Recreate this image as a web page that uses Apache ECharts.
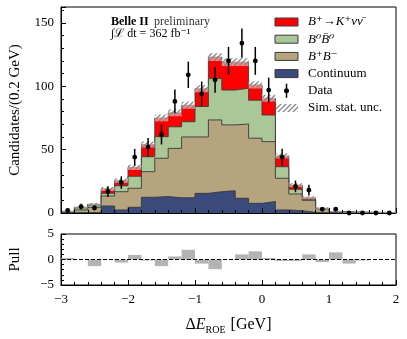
<!DOCTYPE html>
<html>
<head>
<meta charset="utf-8">
<script src="https://cdn.jsdelivr.net/npm/echarts@6/dist/echarts.min.js"></script>
<style>
html, body { margin: 0; padding: 0; background: #fff; }
#main { width: 407px; height: 339px; }
</style>
</head>
<body>
<div id="main"></div>
<script>
// bin edges of the Delta E_ROE histogram (0.2 GeV bins)
const binEdges = [-3.0, -2.8, -2.6, -2.4, -2.2, -2.0, -1.8, -1.6, -1.4, -1.2, -1.0, -0.8, -0.6,
  -0.4, -0.2, 0.0, 0.2, 0.4, 0.6, 0.8, 1.0, 1.2, 1.4, 1.6, 1.8, 2.0];

// simulated components (per bin, not cumulative)
const continuum = [0.3, 0.3, 0.4, 5.5, 2.4, 4.5, 12.4, 13.0, 12.0, 12.0, 15.5, 16.8, 17.6,
  11.6, 7.6, 9.0, 2.4, 1.8, 0.5, 0.2, 0.1, 0.1, 0.1, 0.1, 0.1];
const bPlusBMinus = [0.5, 2.1, 4.1, 7.9, 14.4, 15.0, 20.2, 30.2, 39.0, 48.0, 44.5, 56.6, 51.9,
  58.6, 51.4, 47.3, 25.0, 13.2, 9.5, 3.0, 0.7, 0.4, 0.3, 0.2, 0.2];
const b0B0bar = [0.2, 1.6, 1.8, 2.1, 4.7, 9.5, 11.8, 17.0, 17.0, 12.0, 24.0, 32.6, 27.5,
  28.2, 30.0, 21.0, 9.1, 3.7, 0.5, 0.3, 0.2, 0.1, 0.1, 0.1, 0.1];
const signal = [0.3, 0.5, 0.7, 3.5, 4.0, 7.0, 9.6, 14.8, 11.0, 13.0, 14.0, 17.0, 22.0,
  20.6, 12.0, 13.2, 8.5, 3.3, 1.5, 0.2, 0.2, 0.1, 0.1, 0.1, 0.0];
const simUnc = [0.6, 0.8, 0.9, 1.6, 1.8, 2.1, 2.4, 2.7, 2.7, 2.8, 2.8, 3.1, 3.1,
  3.1, 2.8, 2.7, 2.0, 1.5, 1.2, 0.7, 0.5, 0.4, 0.4, 0.4, 0.4];

// data
const dataCounts = [2, 5, 4, 17, 24, 44, 52, 62, 88, 109, 94, 105, 120,
  134, 120, 97, 44, 21, 18, 3, 3, 0, 0, 0, 0];
const dataErr = [1.4, 2.2, 2.0, 4.1, 4.9, 6.6, 7.2, 7.9, 9.4, 10.4, 9.7, 10.2, 11.0,
  11.6, 11.0, 9.8, 6.6, 4.6, 4.2, 1.7, 1.7, 0, 0, 0, 0];

// pull panel
const pulls = [0.3, 0.0, -1.3, -0.1, -0.6, 0.9, -0.2, -1.3, 0.6, 1.9, -0.8, -1.9, 0.1,
  1.0, 1.6, 0.3, -0.3, -0.3, 1.0, -0.5, 1.4, -0.8, -0.2, 0.0, 0.0];

const yTicks = [0, 50, 100, 150];
const xTicks = [-3, -2, -1, 0, 1, 2];

const serif = '"Liberation Serif", "DejaVu Serif", serif';
const outline = '#3a3a3a';
const colors = {
  signal: '#ff0000',
  b0: '#a9c797',
  bpm: '#b5a47d',
  cont: '#3a4a7b',
};

function makeHatch() {
  const c = document.createElement('canvas');
  c.width = 5;
  c.height = 5;
  const ctx = c.getContext('2d');
  ctx.fillStyle = 'rgba(255,255,255,0.5)';
  ctx.fillRect(0, 0, 5, 5);
  ctx.strokeStyle = '#888888';
  ctx.lineWidth = 1.3;
  ctx.beginPath();
  ctx.moveTo(-1, 6); ctx.lineTo(6, -1);
  ctx.moveTo(-3.5, 3.5); ctx.lineTo(3.5, -3.5);
  ctx.moveTo(1.5, 8.5); ctx.lineTo(8.5, 1.5);
  ctx.stroke();
  return c;
}
const hatch = { image: makeHatch(), repeat: 'repeat' };

const minus = (v) => (v < 0 ? '\u2212' + (-v) : String(v));

// cumulative stack levels, bottom to top
const lvlCont = continuum.slice();
const lvlBpm = lvlCont.map((v, i) => v + bPlusBMinus[i]);
const lvlB0 = lvlBpm.map((v, i) => v + b0B0bar[i]);
const totals = lvlB0.map((v, i) => v + signal[i]);

function stepData(arr) {
  return binEdges.map((x, i) => [x, arr[Math.min(i, arr.length - 1)]]);
}

// each level is drawn as a filled step area from zero; higher levels go underneath
function stepSeries(name, arr, color, z) {
  return {
    name: name,
    type: 'line',
    xAxisIndex: 0,
    yAxisIndex: 0,
    step: 'end',
    showSymbol: false,
    symbol: 'none',
    lineStyle: { color: outline, width: 0.9 },
    areaStyle: { color: color, opacity: 1, origin: 'start' },
    data: stepData(arr),
    z: z,
  };
}

const myChart = echarts.init(document.getElementById('main'), null, { renderer: 'canvas' });

const axisCommon = {
  axisLine: { onZero: false, lineStyle: { color: '#000', width: 1 } },
  splitLine: { show: false },
  minorSplitLine: { show: false },
};

const legendRows = [
  { label: 'B\u207A\u2192K\u207A\u03BD\u03BD\u0304', fill: colors.signal, italic: true },
  { label: 'B\u2070B\u0304\u2070', fill: colors.b0, italic: true },
  { label: 'B\u207AB\u207B', fill: colors.bpm, italic: true },
  { label: 'Continuum', fill: colors.cont },
  { label: 'Data', marker: true },
  { label: 'Sim. stat. unc.', hatch: true },
];
const rowY = (i) => 22 + i * 17.2;

const legendEls = [];
legendRows.forEach((r, i) => {
  const cy = rowY(i);
  if (r.hatch) {
    legendEls.push({ type: 'rect', shape: { x: 275, y: cy - 4, width: 23, height: 8 }, style: { fill: hatch } });
  } else if (!r.marker) {
    legendEls.push({ type: 'rect', shape: { x: 275, y: cy - 4, width: 23, height: 8 }, style: { fill: r.fill, stroke: outline, lineWidth: 1 } });
  }
  legendEls.push({
    type: 'text',
    style: {
      text: r.label, x: 308, y: cy,
      font: (r.italic ? 'italic ' : '') + '13px ' + serif,
      fill: '#000', textVerticalAlign: 'middle', verticalAlign: 'middle',
    },
  });
});

// error-bar marker icon for the Data entry (5 x 14 box)
const dataIcon = 'path://M1.75,0H3.25V14H1.75Z M5,7A2.5,2.5 0 1 1 0,7A2.5,2.5 0 1 1 5,7Z';

const option = {
  animation: false,
  backgroundColor: '#fff',
  legend: {
    show: true,
    left: 284,
    top: rowY(4) - 7,
    padding: 0,
    itemWidth: 5,
    itemHeight: 14,
    selectedMode: false,
    formatter: () => '',
    data: [{ name: 'Data', icon: dataIcon, itemStyle: { color: '#000', borderWidth: 0 } }],
  },
  grid: [
    { left: 60, right: 11, top: 7, height: 206, show: true, borderColor: '#000', borderWidth: 1, backgroundColor: 'transparent' },
    { left: 60, right: 11, top: 234, height: 51, show: true, borderColor: '#000', borderWidth: 1, backgroundColor: 'transparent' },
  ],
  xAxis: [
    Object.assign({}, axisCommon, {
      gridIndex: 0, type: 'value', min: -3, max: 2, interval: 1,
      axisTick: { inside: true, length: 5, lineStyle: { color: '#000' } },
      minorTick: { show: true, splitNumber: 5, length: 3, lineStyle: { color: '#000' } },
      axisLabel: { show: false },
      z: 10,
    }),
    Object.assign({}, axisCommon, {
      gridIndex: 1, type: 'value', min: -3, max: 2, interval: 1,
      axisTick: { inside: true, length: 5, lineStyle: { color: '#000' } },
      minorTick: { show: true, splitNumber: 5, length: 3, lineStyle: { color: '#000' } },
      axisLabel: { color: '#000', fontFamily: serif, fontSize: 13, margin: 8, formatter: minus },
      name: '{d|\u0394}{e|E}{s|ROE}{d| [GeV]}',
      nameLocation: 'middle',
      nameGap: 30,
      nameTextStyle: {
        color: '#000',
        rich: {
          d: { fontFamily: serif, fontSize: 16, lineHeight: 20, color: '#000' },
          e: { fontFamily: serif, fontSize: 16, fontStyle: 'italic', lineHeight: 20, color: '#000' },
          s: { fontFamily: serif, fontSize: 10, lineHeight: 20, verticalAlign: 'bottom', padding: [8, 1, 0, 0], color: '#000' },
        },
      },
    }),
  ],
  yAxis: [
    Object.assign({}, axisCommon, {
      gridIndex: 0, type: 'value', position: 'left', min: 0, max: 162.5, interval: 50,
      axisTick: { inside: true, length: 5, lineStyle: { color: '#000' } },
      axisLabel: {
        color: '#000', fontFamily: serif, fontSize: 13, margin: 7,
        formatter: (v) => (yTicks.indexOf(v) >= 0 ? String(v) : ''),
      },
      name: 'Candidates/(0.2 GeV)',
      nameLocation: 'middle',
      nameGap: 38,
      nameTextStyle: { color: '#000', fontFamily: serif, fontSize: 15 },
      z: 10,
    }),
    {
      gridIndex: 0, type: 'value', position: 'left', min: 0, max: 162.5, interval: 10,
      axisLine: { show: false, onZero: false },
      axisTick: { inside: true, length: 3, lineStyle: { color: '#000' } },
      axisLabel: { show: false },
      splitLine: { show: false },
      z: 10,
    },
    Object.assign({}, axisCommon, {
      gridIndex: 1, type: 'value', position: 'left', min: -5, max: 5, interval: 5,
      axisTick: { inside: true, length: 5, lineStyle: { color: '#000' } },
      minorTick: { show: true, splitNumber: 5, length: 3, lineStyle: { color: '#000' } },
      axisLabel: { color: '#000', fontFamily: serif, fontSize: 13, margin: 7, formatter: minus },
      name: 'Pull',
      nameLocation: 'middle',
      nameGap: 38,
      nameTextStyle: { color: '#000', fontFamily: serif, fontSize: 15 },
    }),
  ],
  graphic: {
    elements: [
      { type: 'text', style: { text: 'Belle II', x: 111, y: 22, font: 'bold 12px ' + serif, fill: '#000', textVerticalAlign: 'middle', verticalAlign: 'middle' } },
      { type: 'text', style: { text: 'preliminary', x: 154, y: 22, font: '12px ' + serif, fill: '#333', textVerticalAlign: 'middle', verticalAlign: 'middle' } },
      { type: 'text', style: { text: '\u222B\u2112 dt = 362 fb\u207B\u00B9', x: 111, y: 34, font: '12px ' + serif, fill: '#000', textVerticalAlign: 'middle', verticalAlign: 'middle' } },
    ].concat(legendEls),
  },
  series: [
    stepSeries('Signal', totals, colors.signal, 1),
    stepSeries('B0B0bar', lvlB0, colors.b0, 2),
    stepSeries('B+B-', lvlBpm, colors.bpm, 3),
    stepSeries('Continuum', lvlCont, colors.cont, 4),
    {
      name: 'Sim. stat. unc.',
      type: 'custom',
      xAxisIndex: 0,
      yAxisIndex: 0,
      z: 5,
      data: totals.map((t, i) => [binEdges[i], binEdges[i + 1], t - simUnc[i], t + simUnc[i]]),
      encode: { x: [0, 1], y: [2, 3] },
      renderItem: function (params, api) {
        const a = api.coord([api.value(0), api.value(3)]);
        const b = api.coord([api.value(1), Math.max(0, api.value(2))]);
        return {
          type: 'rect',
          shape: { x: a[0], y: a[1], width: b[0] - a[0], height: b[1] - a[1] },
          style: { fill: hatch },
        };
      },
    },
    {
      name: 'Data',
      type: 'custom',
      xAxisIndex: 0,
      yAxisIndex: 0,
      z: 6,
      itemStyle: { color: '#000' },
      data: dataCounts.map((n, i) => [(binEdges[i] + binEdges[i + 1]) / 2, n, dataErr[i]]),
      encode: { x: 0, y: 1 },
      renderItem: function (params, api) {
        const x = api.value(0), n = api.value(1), e = api.value(2);
        const p = api.coord([x, n]);
        const lo = api.coord([x, Math.max(0, n - e)]);
        const hi = api.coord([x, n + e]);
        return {
          type: 'group',
          children: [
            { type: 'line', shape: { x1: p[0], y1: lo[1], x2: p[0], y2: hi[1] }, style: { stroke: '#000', lineWidth: 1.5 } },
            { type: 'circle', shape: { cx: p[0], cy: p[1], r: 2.4 }, style: { fill: '#000' } },
          ],
        };
      },
    },
    {
      name: 'Pull',
      type: 'custom',
      xAxisIndex: 1,
      yAxisIndex: 2,
      z: 2,
      data: pulls.map((p, i) => [binEdges[i], binEdges[i + 1], p]),
      encode: { x: [0, 1], y: 2 },
      renderItem: function (params, api) {
        const a = api.coord([api.value(0), 0]);
        const b = api.coord([api.value(1), api.value(2)]);
        return {
          type: 'rect',
          shape: { x: a[0], y: Math.min(a[1], b[1]), width: b[0] - a[0], height: Math.abs(b[1] - a[1]) },
          style: { fill: '#b3b3b3' },
        };
      },
    },
    {
      name: 'zero',
      type: 'line',
      xAxisIndex: 1,
      yAxisIndex: 2,
      z: 3,
      showSymbol: false,
      symbol: 'none',
      lineStyle: { color: '#000', width: 1, type: [4, 2] },
      data: [[xTicks[0], 0], [xTicks[xTicks.length - 1], 0]],
    },
  ],
};

myChart.setOption(option);
</script>
</body>
</html>
